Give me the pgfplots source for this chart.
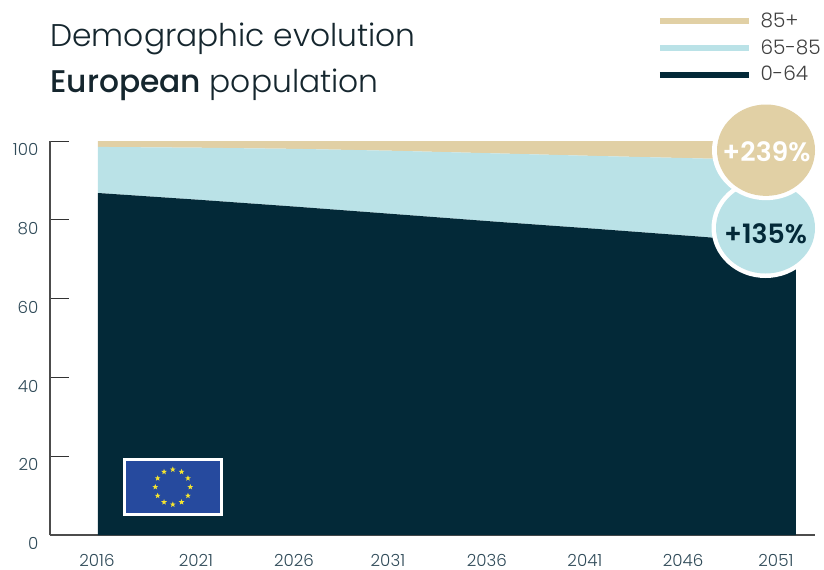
\documentclass[border=0pt]{standalone}
\usepackage{fontspec}
\setmainfont{Poppins Light}[BoldFont={Poppins SemiBold}]
\newfontface\titlebold{Poppins Medium}
\usepackage{pgfplots}
\pgfplotsset{compat=1.18}
\usetikzlibrary{shapes.geometric}
\definecolor{dark}{HTML}{032938}
\definecolor{teal}{HTML}{BAE2E7}
\definecolor{sand}{HTML}{E1D0A5}
\definecolor{titletext}{HTML}{15262E}
\definecolor{ticktext}{HTML}{2F4A58}
\definecolor{flagblue}{HTML}{264A9E}
\definecolor{flagstar}{HTML}{F5E52F}
\begin{document}
\begin{tikzpicture}
% page is exactly the reference's 824x569 px, with the axis corner at (50,535)
\useasboundingbox (-37.5pt,-25.5pt) rectangle (580.5pt,401.25pt);
\begin{axis}[
    at={(0pt,0pt)}, anchor=south west,
    scale only axis,
    width=573.75pt, height=295.5pt,
    xmin=2013.593, xmax=2051.96,
    ymin=0, ymax=100,
    stack plots=y,
    axis lines=left,
    axis line style={-, line width=0.9pt, draw=black!70},
    ytick={0,20,40,60,80,100},
    xtick={2015.95,2020.91,2025.83,2030.54,2035.5,2040.42,2045.34,2050},
    xticklabels={2016,2021,2026,2031,2036,2041,2046,2051},
    extra x ticks={2051.76},
    extra x tick labels={},
    extra x tick style={major tick length=6.75pt, tick style={draw=black!80, line width=0.6pt}},
    x tick style={draw=none},
    y tick style={draw=black!80, line width=0.6pt},
    tick align=inside,
    major tick length=14.25pt,
    ticklabel style={text=ticktext, font=\fontsize{12.5}{13}\selectfont},
    /pgf/number format/assume math mode=true,
    yticklabel style={anchor=east, xshift=-8.5pt, yshift=-6.5pt, inner sep=0pt},
    xticklabel style={anchor=north, yshift=-14.5pt, inner sep=0pt, text depth=0pt},
    legend cell align=left,
    legend style={draw=none, fill=none, inner sep=0pt, at={(0.793,1.325)}, anchor=north west,
        row sep=7.45pt, font=\fontsize{15}{15}\selectfont, text=black!75,
        nodes={inner ysep=0pt, inner xsep=6.5pt, text depth=0pt}},
    legend image code/.code={\draw[line width=4.5pt,#1] (0pt,0pt) -- (66.75pt,0pt);},
]
\addplot[fill=dark, draw=none, forget plot] coordinates {(2016,86.8) (2021,85.1) (2026,83.3) (2031,81.4) (2036,79.5) (2041,77.7) (2046,75.8) (2051,73.8)} \closedcycle;
\addplot[fill=teal, draw=none, forget plot] coordinates {(2016,11.7) (2021,13.2) (2026,14.7) (2031,16.1) (2036,17.35) (2041,18.5) (2046,19.8) (2051,21.2)} \closedcycle;
\addplot[fill=sand, draw=none, forget plot] coordinates {(2016,1.5) (2021,1.7) (2026,2.0) (2031,2.5) (2036,3.15) (2041,3.8) (2046,4.4) (2051,5.0)} \closedcycle;
\addlegendimage{draw=sand}
\addlegendentry{\raisebox{1.5pt}{85+}}
\addlegendimage{draw=teal}
\addlegendentry{\raisebox{1.5pt}{65-85}}
\addlegendimage{draw=dark}
\addlegendentry{\raisebox{1.5pt}{0-64}}
\end{axis}
% overlay in reference pixels, origin at the top left of the picture
\begin{scope}[x=0.75pt,y=-0.75pt,shift={(-50,-535)}]
\node[anchor=base west, inner sep=0pt, text=titletext, font=\fontsize{23.5}{26}\selectfont] at (50,47) {Demographic evolution};
\node[anchor=base west, inner sep=0pt, text=titletext, font=\fontsize{23.5}{26}\selectfont] at (50,93) {{\titlebold European} population};
% flag
\fill[white] (123,458) rectangle (223,516);
\fill[flagblue] (126,461) rectangle (220,513);
\foreach \a in {0,30,...,330}
  \node[star, star points=5, star point ratio=2.4, fill=flagstar, inner sep=0pt, minimum size=4.5pt] at ({172.8+17.5*cos(\a)},{487+17.5*sin(\a)}) {};
% circles, a little squashed in the reference
\fill[white] (765.5,228) ellipse [x radius=54, y radius=50];
\fill[teal] (765.5,228) ellipse [x radius=49.5, y radius=45.5];
\fill[white] (766,150.2) ellipse [x radius=54, y radius=50];
\fill[sand] (766,150.2) ellipse [x radius=49, y radius=45.7];
\node[text=white, inner sep=0pt, font=\fontsize{20}{21}\selectfont\bfseries] at (766.5,152) {+239\%};
\node[text=dark, inner sep=0pt, font=\fontsize{20}{21}\selectfont\bfseries] at (765.5,234) {+135\%};
\end{scope}
\end{tikzpicture}
\end{document}
